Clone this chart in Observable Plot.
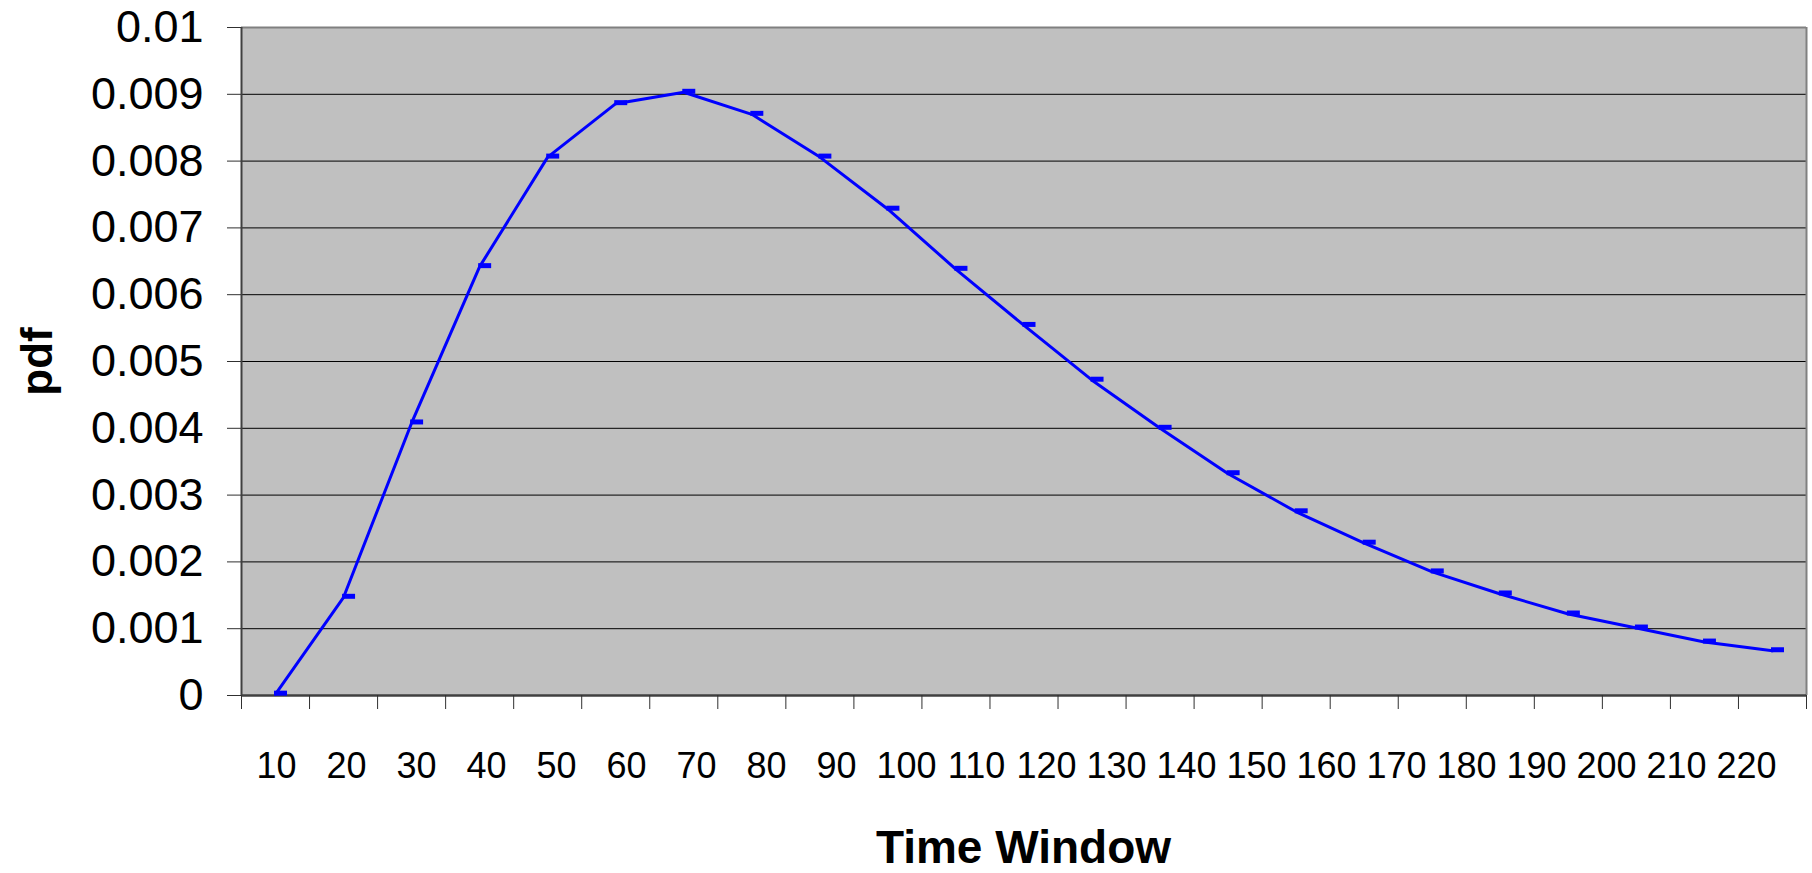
<!DOCTYPE html>
<html>
<head>
<meta charset="utf-8">
<script src="https://cdn.jsdelivr.net/npm/d3@7"></script>
<script src="https://cdn.jsdelivr.net/npm/@observablehq/plot@0.6"></script>
<style>
  html, body { margin: 0; padding: 0; background: #ffffff; overflow: hidden; }
  #chart { width: 1812px; }
  .xtitle {
    width: 1812px; box-sizing: border-box; padding-left: 241px; padding-right: 6px;
    text-align: center; font-family: "Liberation Sans", Arial, sans-serif;
    font-weight: bold; font-size: 46px; line-height: 72px; color: #000;
  }
</style>
</head>
<body>
<div id="chart"></div>
<script>
// ---- data ----
const pdfValues = [0.00002, 0.00147, 0.00408, 0.00642, 0.00806, 0.00886, 0.00903, 0.00870,
                   0.00806, 0.00728, 0.00638, 0.00554, 0.00472, 0.00400, 0.00332, 0.00275,
                   0.00228, 0.00185, 0.00152, 0.00122, 0.00101, 0.00080, 0.00067];
const xTickLabels = [10, 20, 30, 40, 50, 60, 70, 80, 90, 100, 110, 120, 130, 140, 150, 160,
                     170, 180, 190, 200, 210, 220];
const yTicks = [0, 0.001, 0.002, 0.003, 0.004, 0.005, 0.006, 0.007, 0.008, 0.009, 0.01];
const yTickLabels = ["0", "0.001", "0.002", "0.003", "0.004", "0.005", "0.006", "0.007", "0.008", "0.009", "0.01"];
const yLabel = "pdf";
const xLabel = "Time Window";

// table built from the arrays: each value sits in the middle of its category slot
const rows = pdfValues.map((v, i) => ({slot: i + 0.5, pdf: v}));
const slotEdges = d3.range(pdfValues.length + 1);

const dash = {draw(context) { context.rect(-6.5, -2.5, 13, 5); }};
const font = "'Liberation Sans', Arial, sans-serif";

const main = Plot.plot({
  width: 1812,
  height: 720,
  marginTop: 27,
  marginBottom: 25,
  marginLeft: 241,
  marginRight: 6,
  style: {fontFamily: font, background: "#ffffff", color: "#000", overflow: "visible"},
  x: {type: "linear", domain: [0, pdfValues.length], axis: null},
  y: {domain: [0, 0.01], axis: null},
  marks: [
    Plot.frame({fill: "#C0C0C0", stroke: null}),
    Plot.ruleY(yTicks.slice(1, -1), {stroke: "#000", strokeWidth: 1}),
    Plot.ruleY([0.01], {stroke: "#808080", strokeWidth: 2}),
    Plot.ruleX([pdfValues.length], {stroke: "#808080", strokeWidth: 2}),
    Plot.ruleX([0], {stroke: "#404040", strokeWidth: 2}),
    Plot.ruleY([0], {stroke: "#404040", strokeWidth: 2.5}),
    Plot.axisY(yTicks, {
      anchor: "left", tickSize: 14, tickPadding: 24, fontSize: 45,
      tickFormat: (d, i) => yTickLabels[i], label: null, stroke: "#303030"
    }),
    Plot.axisX(slotEdges, {
      anchor: "bottom", tickSize: 14, tickFormat: () => "", label: null, stroke: "#303030"
    }),
    Plot.line(rows, {x: "slot", y: "pdf", stroke: "#0000FF", strokeWidth: 3}),
    Plot.dot(rows, {x: "slot", y: "pdf", symbol: dash, fill: "#0000FF", stroke: null, dx: 5, dy: -1}),
    Plot.text([yLabel], {
      frameAnchor: "left", textAnchor: "middle", lineAnchor: "middle",
      dx: -204, rotate: -90, fontSize: 44, fontWeight: "bold", fill: "#000"
    })
  ]
});

const labels = Plot.plot({
  width: 1812,
  height: 91,
  marginTop: 0,
  marginBottom: 0,
  marginLeft: 270,
  marginRight: 61,
  style: {fontFamily: font, background: "#ffffff", color: "#000"},
  x: {type: "point", domain: xTickLabels, padding: 0, axis: null},
  marks: [
    Plot.text(xTickLabels, {x: d => d, text: d => String(d), fontSize: 36, fill: "#000"})
  ]
});

const chart = document.getElementById("chart");
chart.appendChild(main);
chart.appendChild(labels);
const title = document.createElement("div");
title.className = "xtitle";
title.textContent = xLabel;
chart.appendChild(title);
</script>
</body>
</html>
